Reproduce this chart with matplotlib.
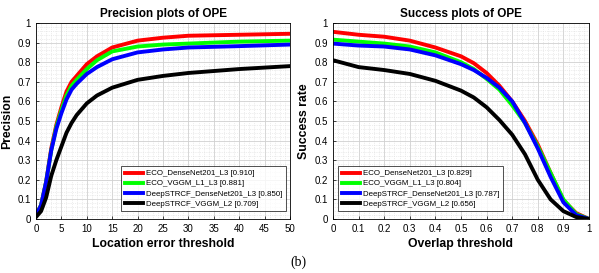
import numpy as np
import matplotlib.pyplot as plt
from matplotlib.ticker import MultipleLocator, FuncFormatter

plt.rcParams['font.family'] = ['Liberation Sans', 'DejaVu Sans']

names = ['ECO_DenseNet201_L3', 'ECO_VGGM_L1_L3', 'DeepSTRCF_DenseNet201_L3', 'DeepSTRCF_VGGM_L2']
colors = ['#ff0000', '#00ff00', '#0000ff', '#000000']
prec_scores = ['0.910', '0.881', '0.850', '0.709']
succ_scores = ['0.829', '0.804', '0.787', '0.656']

# precision plot data
prec_x = [0, 1, 2, 3, 4, 5, 6, 7, 8, 10, 12, 15, 20, 25, 30, 40, 50]
prec_red = [0.02, 0.07, 0.19, 0.36, 0.48, 0.57, 0.65, 0.70, 0.73, 0.79, 0.83, 0.875, 0.91, 0.925, 0.935, 0.94, 0.945]
prec_green = [0.02, 0.07, 0.19, 0.35, 0.47, 0.555, 0.63, 0.68, 0.71, 0.765, 0.81, 0.855, 0.88, 0.89, 0.895, 0.905, 0.91]
prec_blue = [0.02, 0.07, 0.19, 0.35, 0.46, 0.54, 0.61, 0.66, 0.69, 0.74, 0.775, 0.815, 0.85, 0.865, 0.875, 0.882, 0.89]
prec_black = [0.01, 0.04, 0.11, 0.22, 0.30, 0.37, 0.44, 0.49, 0.53, 0.59, 0.63, 0.67, 0.71, 0.73, 0.745, 0.765, 0.78]

# success plot data
succ_x = [0, 0.1, 0.2, 0.3, 0.4, 0.5, 0.55, 0.6, 0.65, 0.7, 0.75, 0.8, 0.85, 0.9, 0.95, 1.0]
succ_red = [0.955, 0.94, 0.93, 0.91, 0.875, 0.83, 0.795, 0.745, 0.68, 0.60, 0.50, 0.38, 0.235, 0.095, 0.03, 0.0]
succ_green = [0.915, 0.905, 0.895, 0.88, 0.85, 0.80, 0.765, 0.715, 0.66, 0.58, 0.49, 0.37, 0.235, 0.10, 0.025, 0.0]
succ_blue = [0.895, 0.885, 0.88, 0.865, 0.835, 0.79, 0.76, 0.72, 0.67, 0.60, 0.49, 0.36, 0.215, 0.085, 0.02, 0.0]
succ_black = [0.81, 0.775, 0.76, 0.74, 0.705, 0.655, 0.62, 0.57, 0.505, 0.43, 0.33, 0.20, 0.10, 0.04, 0.01, 0.0]

fig = plt.figure(figsize=(5.99, 2.73), dpi=100)
ax1 = fig.add_axes([36/599, 1-219/273, 254/599, 196/273])
ax2 = fig.add_axes([333/599, 1-219/273, 256/599, 196/273])

fmt = FuncFormatter(lambda v, p: f'{round(v, 2):g}')


def style(ax, xmax, xmajor, xminor):
    ax.set_xlim(0, xmax)
    ax.set_ylim(0, 1)
    ax.xaxis.set_major_locator(MultipleLocator(xmajor))
    ax.xaxis.set_minor_locator(MultipleLocator(xminor))
    ax.yaxis.set_major_locator(MultipleLocator(0.1))
    ax.yaxis.set_minor_locator(MultipleLocator(0.02))
    ax.xaxis.set_major_formatter(fmt)
    ax.yaxis.set_major_formatter(fmt)
    ax.grid(True, which='major', color='#d0d0d0', lw=0.6, ls='-')
    ax.grid(True, which='minor', color='#dcdcdc', lw=0.5, ls=':')
    ax.tick_params(which='both', direction='in', labelsize=7, length=2, width=0.5)
    ax.tick_params(which='minor', length=0)
    ax.set_axisbelow(True)
    for s in ax.spines.values():
        s.set_linewidth(0.6)


def add_legend(ax, loc, anchor):
    leg = ax.legend(loc=loc, bbox_to_anchor=anchor, fontsize=5.7, frameon=True,
                    fancybox=False, edgecolor='black', handlelength=2.3,
                    labelspacing=0.32, borderpad=0.45, handletextpad=0.4,
                    borderaxespad=0)
    leg.get_frame().set_linewidth(0.6)


curves1 = [prec_red, prec_green, prec_blue, prec_black]
for y, c, n, s in zip(curves1, colors, names, prec_scores):
    ax1.plot(prec_x, y, color=c, lw=2.8, label=f'{n} [{s}]')
style(ax1, 50, 5, 1)
ax1.set_title('Precision plots of OPE', fontsize=8.5, fontweight='bold', pad=4)
ax1.set_xlabel('Location error threshold', fontsize=8.8, fontweight='bold', labelpad=3)
ax1.set_ylabel('Precision', fontsize=8.8, fontweight='bold', labelpad=3)
add_legend(ax1, 'lower right', (0.985, 0.04))

curves2 = [succ_red, succ_green, succ_blue, succ_black]
for y, c, n, s in zip(curves2, colors, names, succ_scores):
    ax2.plot(succ_x, y, color=c, lw=2.8, label=f'{n} [{s}]')
style(ax2, 1, 0.1, 0.02)
ax2.set_title('Success plots of OPE', fontsize=8.5, fontweight='bold', pad=4)
ax2.set_xlabel('Overlap threshold', fontsize=8.8, fontweight='bold', labelpad=3)
ax2.set_ylabel('Success rate', fontsize=8.8, fontweight='bold', labelpad=3)
add_legend(ax2, 'lower left', (0.02, 0.04))

fig.text(298/599, 1-262/273, '(b)', fontsize=10, family='Liberation Serif', ha='center', va='center')

fig.savefig('out.png', dpi=100)
